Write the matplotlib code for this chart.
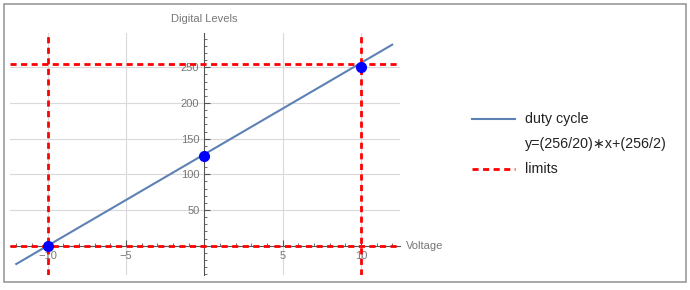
import numpy as np
import matplotlib
matplotlib.use("Agg")
import matplotlib.pyplot as plt
from matplotlib.patches import Rectangle

plt.rcParams['font.family'] = ['Liberation Sans', 'DejaVu Sans']

# data
slope = 256 / 20
intercept = 256 / 2
x_line = np.linspace(-12, 12, 2)
y_line = slope * x_line + intercept

point_x = [-10, 0, 10]
point_y = [0, 126, 250]

limit_x = [-10, 10]
limit_y = [0, 255]

x_ticks = [-10, -5, 5, 10]
y_ticks = [50, 100, 150, 200, 250]

fig = plt.figure(figsize=(6.9, 2.9), dpi=100)
fig.patches.append(Rectangle((4 / 690, 8 / 290), 682 / 690, 278 / 290,
                             transform=fig.transFigure, fill=False,
                             edgecolor='#999999', linewidth=1.2))

ax = fig.add_axes([10 / 690, 15 / 290, 390 / 690, 242 / 290])
ax.set_xlim(-12.4, 12.5)
ax.set_ylim(-41, 298)

# grid
for gx in x_ticks:
    ax.axvline(gx, color='#d9d9d9', lw=0.8, zorder=0)
for gy in y_ticks:
    ax.axhline(gy, color='#d9d9d9', lw=0.8, zorder=0)

# axes through origin
for side in ['top', 'right']:
    ax.spines[side].set_visible(False)
ax.spines['left'].set_position(('data', 0))
ax.spines['bottom'].set_position(('data', 0))
ax.spines['left'].set_color('#555555')
ax.spines['bottom'].set_color('#555555')

ax.set_xticks(x_ticks)
ax.set_yticks(y_ticks)
ax.set_xticks(np.arange(-12, 13, 1), minor=True)
ax.set_yticks(np.arange(-40, 300, 10), minor=True)
ax.tick_params(which='both', direction='in', colors='#555555', labelcolor='#777777',
               labelsize=8)
ax.tick_params(which='major', length=4, width=0.8)
ax.tick_params(which='minor', length=2, width=0.6)
ax.tick_params(axis='x', pad=4)

ax.text(12.9, 0, 'Voltage', color='#777777', fontsize=8, va='center', ha='left')
ax.text(0, 318, 'Digital Levels', color='#777777', fontsize=8, va='center', ha='center')

line, = ax.plot(x_line, y_line, color='#5E81B5', lw=1.5, zorder=3)
for lx in limit_x:
    ax.axvline(lx, color='#ff0000', lw=2, ls=(0, (2.2, 1.6)), zorder=4)
for ly in limit_y:
    ax.axhline(ly, color='#ff0000', lw=2, ls=(0, (2.2, 1.6)), zorder=4)
ax.plot(point_x, point_y, 'o', color='#0000ff', ms=7, zorder=5, clip_on=False)

ax.patch.set_visible(False)

# legend
fig.lines.append(plt.Line2D([472 / 690, 515 / 690], [1 - 119 / 290, 1 - 119 / 290],
                            color='#5E81B5', lw=1.5, transform=fig.transFigure))
fig.lines.append(plt.Line2D([472 / 690, 515 / 690], [1 - 169 / 290, 1 - 169 / 290],
                            color='#ff0000', lw=2, ls=(0, (2.2, 1.6)),
                            transform=fig.transFigure))
fig.text(525 / 690, 1 - 119 / 290, 'duty cycle', fontsize=10.3, va='center', color='#222222')
fig.text(525 / 690, 1 - 144 / 290, 'y=(256/20)\u2217x+(256/2)', fontsize=10.3, va='center',
         color='#222222')
fig.text(525 / 690, 1 - 169 / 290, 'limits', fontsize=10.3, va='center', color='#222222')

fig.savefig('out.png', dpi=100)
